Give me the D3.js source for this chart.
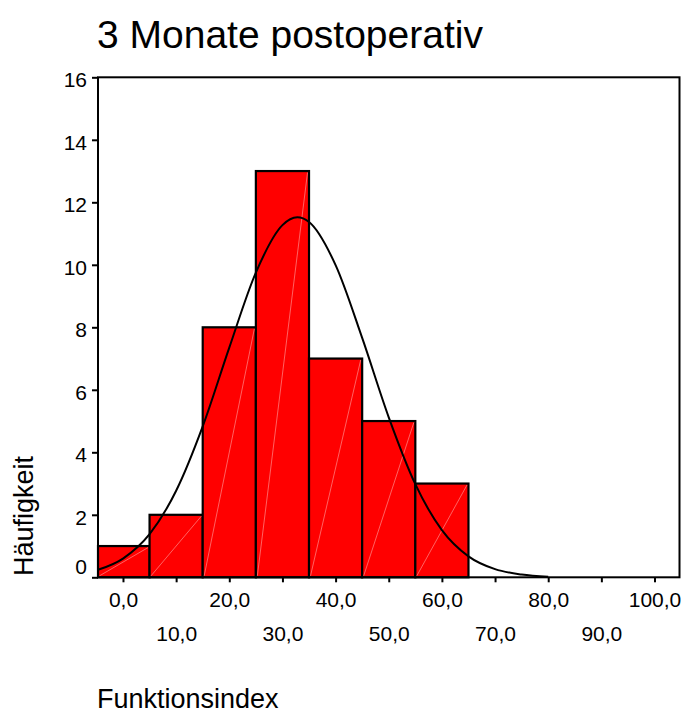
<!DOCTYPE html>
<html>
<head>
<meta charset="utf-8">
<script src="https://cdn.jsdelivr.net/npm/d3@7"></script>
<style>
  body { margin: 0; background: #fff; }
  svg text { font-family: Arial, "Liberation Sans", sans-serif; fill: #000; }
</style>
</head>
<body>
<div id="chart"></div>
<script>
// histogram data: bin centers (width 10) and counts
const binCenters = [0, 10, 20, 30, 40, 50, 60];
const counts = [1, 2, 8, 13, 7, 5, 3];
const binWidth = 10;

// normal curve overlay
const curveX = [-4.7, 0, 5, 10, 15, 20, 25, 30, 32.8, 35, 40, 45, 50, 55, 60, 65, 70, 75, 80];
const curveY = [0.24, 0.6, 1.38, 2.77, 4.83, 7.35, 9.75, 11.27, 11.52, 11.37, 9.99, 7.66, 5.12, 2.98, 1.51, 0.67, 0.26, 0.09, 0.02];

const xTicks = [0, 10, 20, 30, 40, 50, 60, 70, 80, 90, 100];
const yTicks = [0, 2, 4, 6, 8, 10, 12, 14, 16];

const title = "3 Monate postoperativ";
const xTitle = "Funktionsindex";
const yTitle = "Häufigkeit";

const W = 683, H = 715;
const plot = { left: 98, right: 679.5, top: 77.3, bottom: 577.3 };

const svg = d3.select("#chart").append("svg")
    .attr("width", W)
    .attr("height", H);

const x = d3.scaleLinear().domain([-4.7, 104.7]).range([plot.left, plot.right]);
const y = d3.scaleLinear().domain([0, 16]).range([plot.bottom, plot.top]);

const fmt = d => d.toFixed(1).replace(".", ",");

// bars
const bars = binCenters.map((c, i) => ({
    x0: Math.max(c - binWidth / 2, x.domain()[0]),
    x1: c + binWidth / 2,
    n: counts[i]
}));

svg.selectAll(".bar")
    .data(bars)
    .enter()
    .append("rect")
    .attr("class", "bar")
    .attr("x", d => x(d.x0))
    .attr("y", d => y(d.n))
    .attr("width", d => x(d.x1) - x(d.x0))
    .attr("height", d => y(0) - y(d.n))
    .style("fill", "#ff0000")
    .style("stroke", "#000")
    .style("stroke-width", 2.2);

// faint diagonal inside each bar
svg.selectAll(".diag")
    .data(bars)
    .enter()
    .append("line")
    .attr("class", "diag")
    .attr("x1", d => x(d.x0) + 1.5)
    .attr("y1", y(0) - 1.5)
    .attr("x2", d => x(d.x1) - 1.5)
    .attr("y2", d => y(d.n) + 1.5)
    .style("stroke", "#ff8c8c")
    .style("stroke-width", 0.7);

// normal curve
const line = d3.line()
    .x((d, i) => x(curveX[i]))
    .y(d => y(d))
    .curve(d3.curveMonotoneX);

svg.append("path")
    .datum(curveY)
    .attr("d", line)
    .style("fill", "none")
    .style("stroke", "#000")
    .style("stroke-width", 2);

// frame
svg.append("rect")
    .attr("x", plot.left)
    .attr("y", plot.top)
    .attr("width", plot.right - plot.left)
    .attr("height", plot.bottom - plot.top)
    .style("fill", "none")
    .style("stroke", "#000")
    .style("stroke-width", 2);

// y axis
const yAxis = svg.append("g")
    .attr("transform", `translate(${plot.left},0)`)
    .call(d3.axisLeft(y).tickValues(yTicks).tickSize(6).tickPadding(5).tickFormat(d3.format("d")));
yAxis.select(".domain").remove();
yAxis.selectAll(".tick line").style("stroke", "#000").style("stroke-width", 2);
yAxis.selectAll(".tick text")
    .style("font-size", "21px")
    .attr("dy", d => d === 0 ? "-0.17em" : "0.45em");

// x axis, labels in two staggered rows
const xAxis = svg.append("g")
    .attr("transform", `translate(0,${plot.bottom})`)
    .call(d3.axisBottom(x).tickValues(xTicks).tickSize(5).tickFormat(fmt));
xAxis.select(".domain").remove();
xAxis.selectAll(".tick line").style("stroke", "#000").style("stroke-width", 2);
xAxis.selectAll(".tick text")
    .style("font-size", "21px")
    .attr("y", (d, i) => i % 2 === 0 ? 14.5 : 49);

// titles
svg.append("text")
    .attr("x", 97)
    .attr("y", 48)
    .style("font-size", "39px")
    .text(title);

svg.append("text")
    .attr("x", 97)
    .attr("y", 708)
    .style("font-size", "27px")
    .text(xTitle);

svg.append("text")
    .attr("transform", "translate(33,576) rotate(-90)")
    .style("font-size", "27px")
    .text(yTitle);
</script>
</body>
</html>
